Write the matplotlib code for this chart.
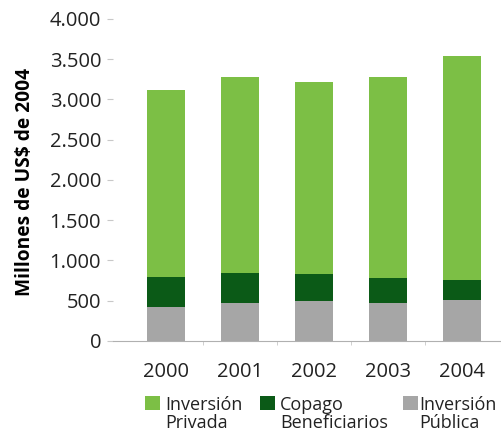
import numpy as np
import matplotlib
matplotlib.use('Agg')
import matplotlib.pyplot as plt
from matplotlib.patches import Rectangle

years = ['2000', '2001', '2002', '2003', '2004']
inv_publica = [425, 475, 494, 475, 507]
copago = [376, 375, 340, 302, 245]
inv_privada = [2316, 2426, 2381, 2499, 2794]

c_privada = '#7cbf45'
c_copago = '#0b5a17'
c_publica = '#a6a6a6'

plt.rcParams['font.family'] = ['Open Sans', 'DejaVu Sans']

W, H = 502, 434
fig = plt.figure(figsize=(W / 100, H / 100), dpi=100)
ax = fig.add_axes([0.225, 0.2143, 0.775, 0.742])

x = np.arange(len(years))
w = 0.51
base2 = np.array(inv_publica) + np.array(copago)
ax.bar(x, inv_publica, w, color=c_publica)
ax.bar(x, copago, w, bottom=inv_publica, color=c_copago)
ax.bar(x, inv_privada, w, bottom=base2, color=c_privada)

ax.set_xlim(-0.716, 4.54)
ax.set_ylim(0, 4000)
ax.set_yticks(np.arange(0, 4001, 500))
ax.set_yticklabels(['0', '500', '1.000', '1.500', '2.000', '2.500', '3.000', '3.500', '4.000'])
ax.set_xticks(x)
ax.set_xticklabels(years)
ax.set_xticks(x[:-1] + 0.5, minor=True)

for s in ['top', 'right', 'left']:
    ax.spines[s].set_visible(False)
ax.spines['bottom'].set_color('#b0b0b0')
ax.spines['bottom'].set_linewidth(0.8)

ax.tick_params(axis='y', length=4, color='#c8c8c8', labelsize=14.5, labelcolor='#222222', pad=4.5)
ax.tick_params(axis='x', which='major', length=0, labelsize=14.5, labelcolor='#222222', pad=15)
ax.tick_params(axis='x', which='minor', length=3, color='#c8c8c8')

ax.set_ylabel('Millones de US$ de 2004', fontsize=13.8, fontweight='bold')
ax.yaxis.set_label_coords(35 / W, (H - 182) / H, transform=fig.transFigure)

# legend: two-line labels, square next to the first line
legend_items = [
    (145, 165, c_privada, 'Inversión\nPrivada'),
    (260, 280, c_copago, 'Copago\nBeneficiarios'),
    (403, 419, c_publica, 'Inversión\nPública'),
]
for sq_x, tx_x, col, txt in legend_items:
    fig.add_artist(Rectangle((sq_x / W, (H - 410) / H), 15 / W, 14 / H,
                             transform=fig.transFigure, color=col, lw=0))
    fig.text(tx_x / W, (H - 428) / H, txt, fontsize=13, color='#222222',
             va='baseline', ha='left', linespacing=1.0)

fig.savefig('out.png', dpi=100)
